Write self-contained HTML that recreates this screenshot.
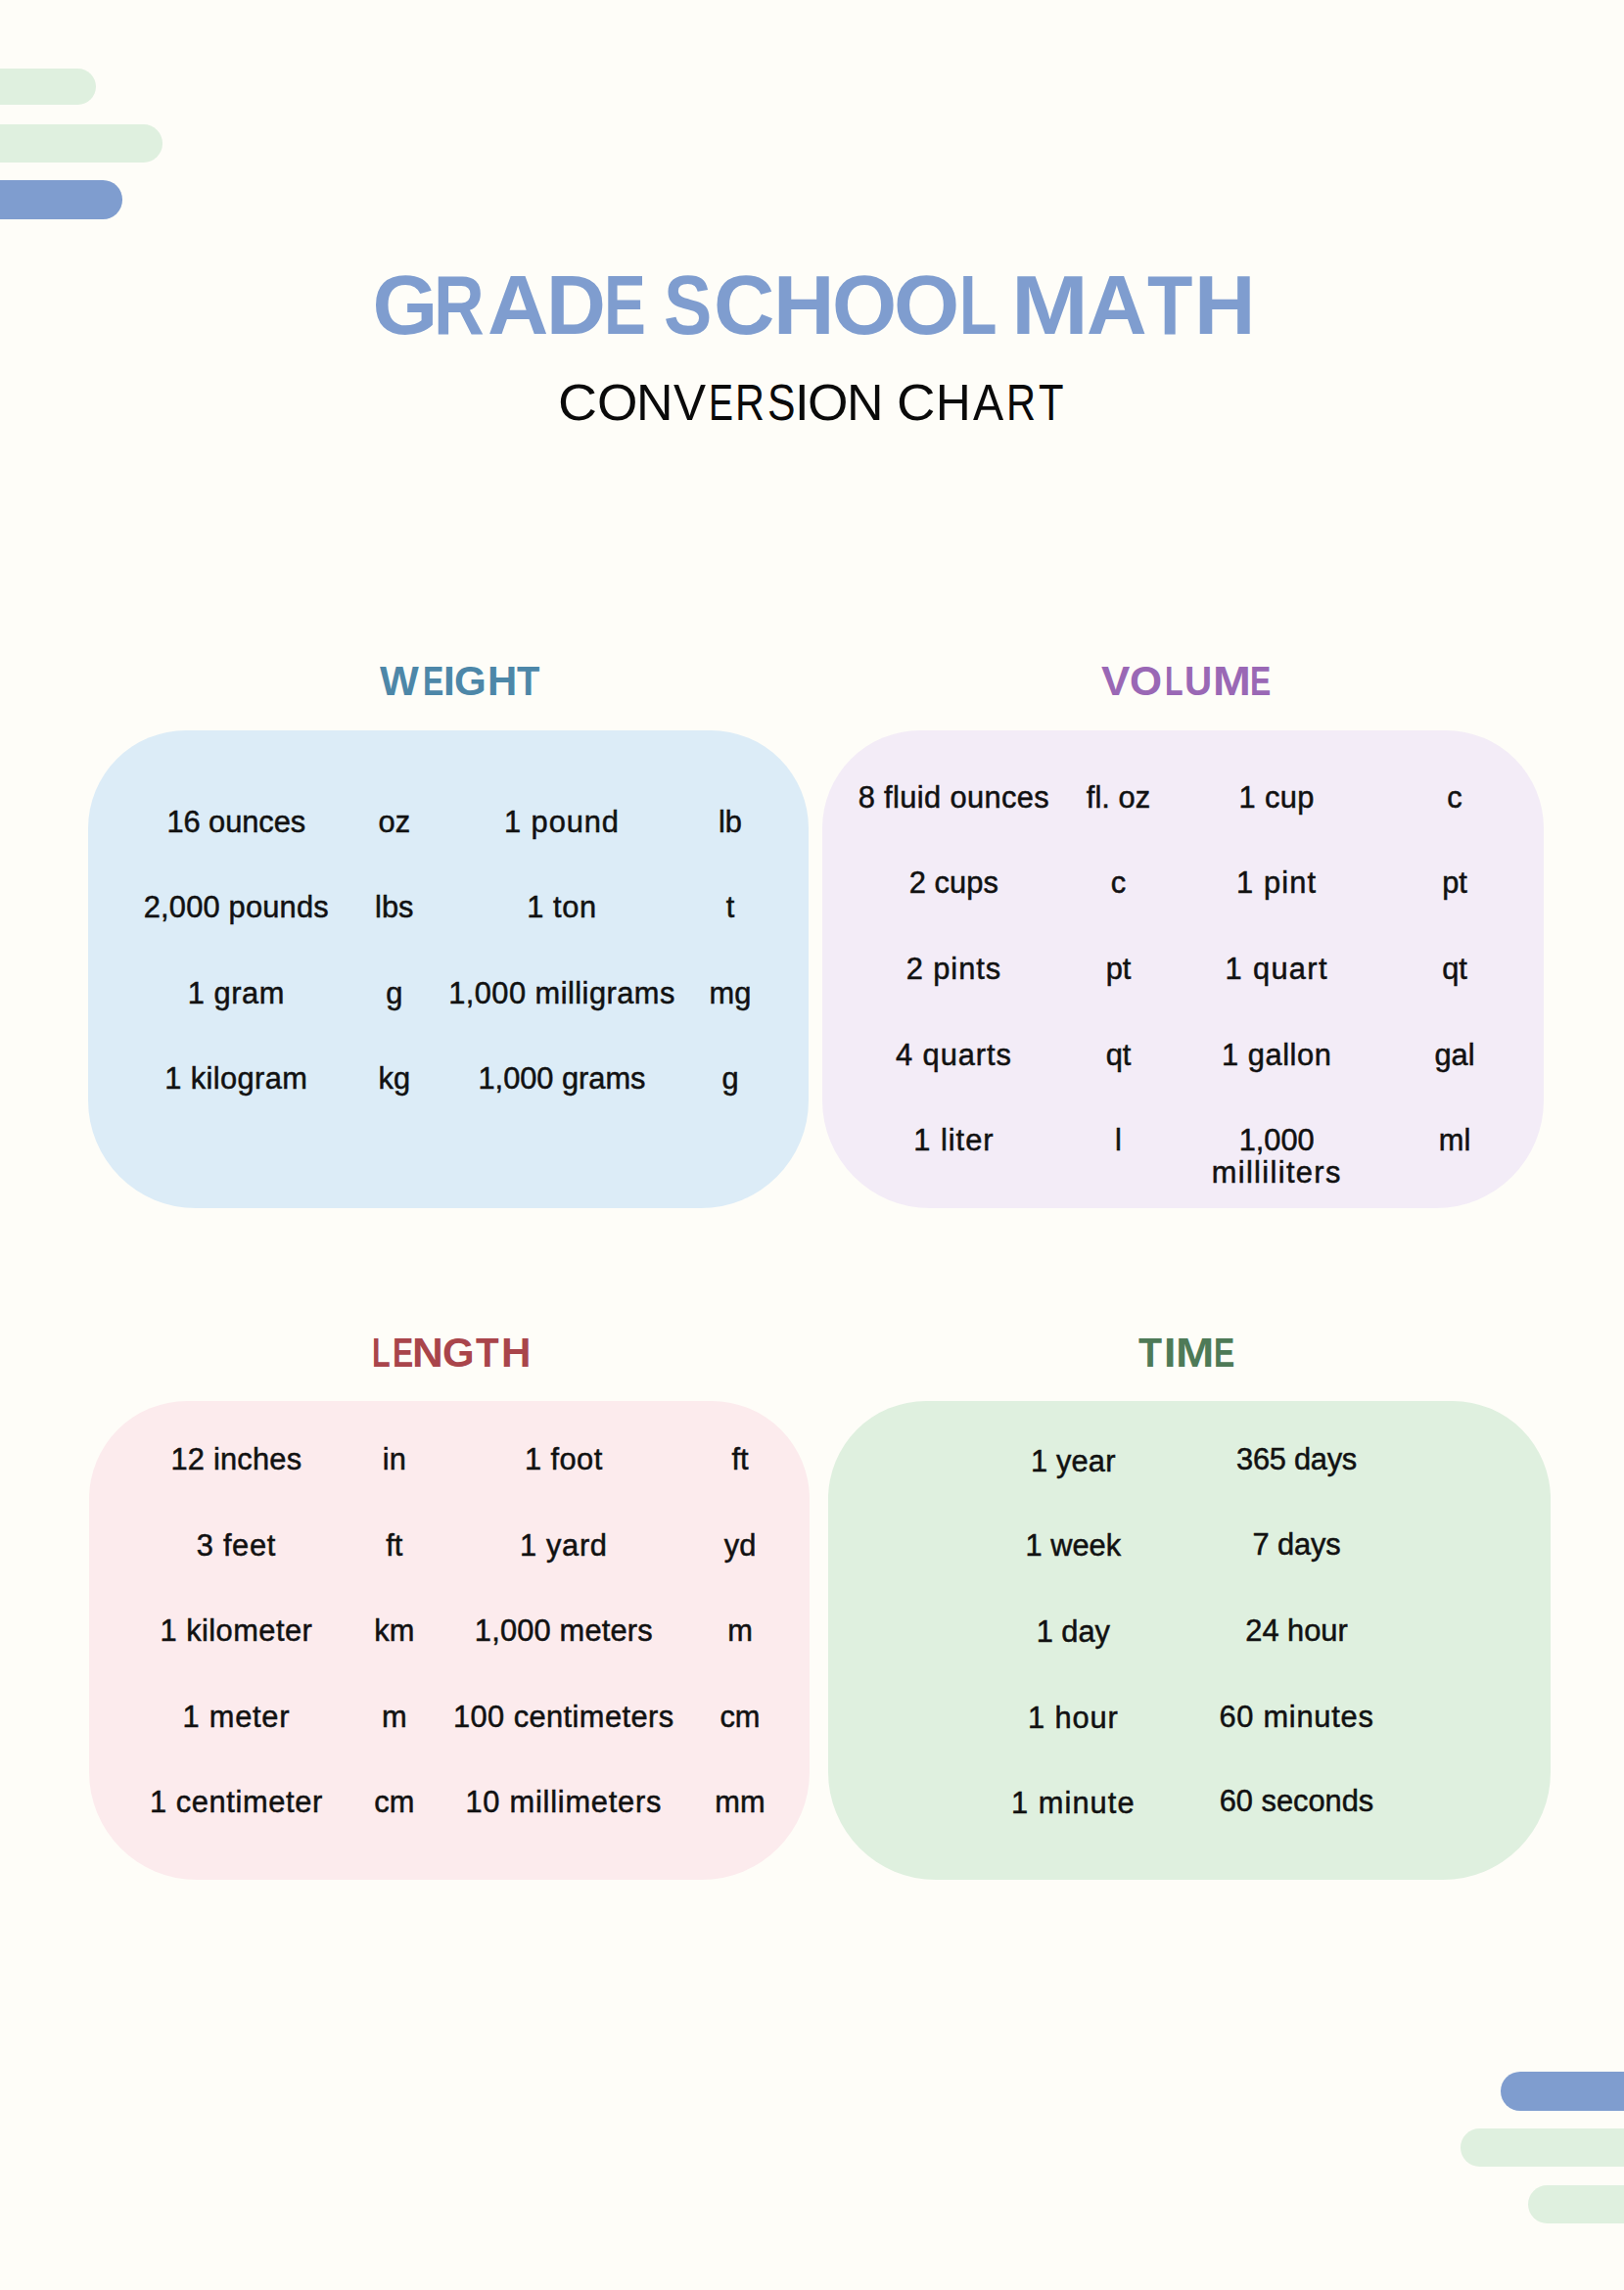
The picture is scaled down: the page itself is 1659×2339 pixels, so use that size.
<!DOCTYPE html>
<html><head><meta charset="utf-8"><style>
html,body{margin:0;padding:0}
body{width:1659px;height:2339px;background:#fefdf8;position:relative;overflow:hidden;font-family:"Liberation Sans",sans-serif}
.b{position:absolute}
.t{position:absolute;white-space:nowrap;font-kerning:none}
.r{-webkit-text-stroke:0.5px #111}
</style></head><body>
<div class="b" style="left:-40px;top:69.7px;width:138px;height:37.599999999999994px;background:#dff0df;border-radius:18.799999999999997px"></div>
<div class="b" style="left:-40px;top:127.3px;width:205.5px;height:38.7px;background:#dff0df;border-radius:19.35px"></div>
<div class="b" style="left:-40px;top:184px;width:165px;height:39.599999999999994px;background:#7f9dcf;border-radius:19.799999999999997px"></div>
<div class="b" style="left:1533px;top:2116px;width:167px;height:40px;background:#7f9dcf;border-radius:20.0px"></div>
<div class="b" style="left:1492px;top:2173.5px;width:208px;height:39.19999999999982px;background:#dff0df;border-radius:19.59999999999991px"></div>
<div class="b" style="left:1560.5px;top:2232.3px;width:139.5px;height:39.19999999999982px;background:#dff0df;border-radius:19.59999999999991px"></div>
<div class="t" style="left:380.48px;top:269.35px;font-size:85.8px;line-height:85.8px;font-weight:700;color:#7f9dcf;letter-spacing:0.000px;transform:scaleX(1.0000);transform-origin:0 0">G</div>
<div class="t" style="left:443.31px;top:269.35px;font-size:85.8px;line-height:85.8px;font-weight:700;color:#7f9dcf;letter-spacing:0.000px;transform:scaleX(0.8354);transform-origin:0 0">R</div>
<div class="t" style="left:498.25px;top:269.35px;font-size:85.8px;line-height:85.8px;font-weight:700;color:#7f9dcf;letter-spacing:0.000px;transform:scaleX(1.0059);transform-origin:0 0">A</div>
<div class="t" style="left:558.36px;top:269.35px;font-size:85.8px;line-height:85.8px;font-weight:700;color:#7f9dcf;letter-spacing:0.000px;transform:scaleX(0.9825);transform-origin:0 0">D</div>
<div class="t" style="left:617.01px;top:269.35px;font-size:85.8px;line-height:85.8px;font-weight:700;color:#7f9dcf;letter-spacing:0.000px;transform:scaleX(0.7479);transform-origin:0 0">E</div>
<div class="t" style="left:678.27px;top:269.35px;font-size:85.8px;line-height:85.8px;font-weight:700;color:#7f9dcf;letter-spacing:0.000px;transform:scaleX(0.8618);transform-origin:0 0">S</div>
<div class="t" style="left:728.56px;top:269.35px;font-size:85.8px;line-height:85.8px;font-weight:700;color:#7f9dcf;letter-spacing:0.000px;transform:scaleX(1.0054);transform-origin:0 0">C</div>
<div class="t" style="left:790.11px;top:269.35px;font-size:85.8px;line-height:85.8px;font-weight:700;color:#7f9dcf;letter-spacing:0.000px;transform:scaleX(1.0091);transform-origin:0 0">H</div>
<div class="t" style="left:849.81px;top:269.35px;font-size:85.8px;line-height:85.8px;font-weight:700;color:#7f9dcf;letter-spacing:0.000px;transform:scaleX(0.9913);transform-origin:0 0">O</div>
<div class="t" style="left:913.46px;top:269.35px;font-size:85.8px;line-height:85.8px;font-weight:700;color:#7f9dcf;letter-spacing:0.000px;transform:scaleX(1.0064);transform-origin:0 0">O</div>
<div class="t" style="left:980.19px;top:269.35px;font-size:85.8px;line-height:85.8px;font-weight:700;color:#7f9dcf;letter-spacing:0.000px;transform:scaleX(0.7336);transform-origin:0 0">L</div>
<div class="t" style="left:1033.47px;top:269.35px;font-size:85.8px;line-height:85.8px;font-weight:700;color:#7f9dcf;letter-spacing:0.000px;transform:scaleX(1.1035);transform-origin:0 0">M</div>
<div class="t" style="left:1110.17px;top:269.35px;font-size:85.8px;line-height:85.8px;font-weight:700;color:#7f9dcf;letter-spacing:0.000px;transform:scaleX(0.9954);transform-origin:0 0">A</div>
<div class="t" style="left:1172.45px;top:269.35px;font-size:85.8px;line-height:85.8px;font-weight:700;color:#7f9dcf;letter-spacing:0.000px;transform:scaleX(0.8847);transform-origin:0 0">T</div>
<div class="t" style="left:1220.41px;top:269.35px;font-size:85.8px;line-height:85.8px;font-weight:700;color:#7f9dcf;letter-spacing:0.000px;transform:scaleX(1.0091);transform-origin:0 0">H</div>
<div class="t" style="left:570.09px;top:384.72px;font-size:52.3px;line-height:52.3px;font-weight:400;color:#0a0a0a;letter-spacing:0.000px;transform:scaleX(1.0597);transform-origin:0 0">C</div>
<div class="t" style="left:609.77px;top:384.72px;font-size:52.3px;line-height:52.3px;font-weight:400;color:#0a0a0a;letter-spacing:0.000px;transform:scaleX(1.0196);transform-origin:0 0">O</div>
<div class="t" style="left:649.94px;top:384.72px;font-size:52.3px;line-height:52.3px;font-weight:400;color:#0a0a0a;letter-spacing:0.000px;transform:scaleX(0.9927);transform-origin:0 0">N</div>
<div class="t" style="left:687.88px;top:384.72px;font-size:52.3px;line-height:52.3px;font-weight:400;color:#0a0a0a;letter-spacing:0.000px;transform:scaleX(0.9470);transform-origin:0 0">V</div>
<div class="t" style="left:723.83px;top:384.72px;font-size:52.3px;line-height:52.3px;font-weight:400;color:#0a0a0a;letter-spacing:0.000px;transform:scaleX(0.7161);transform-origin:0 0">E</div>
<div class="t" style="left:750.80px;top:384.72px;font-size:52.3px;line-height:52.3px;font-weight:400;color:#0a0a0a;letter-spacing:0.000px;transform:scaleX(0.7922);transform-origin:0 0">R</div>
<div class="t" style="left:784.26px;top:384.72px;font-size:52.3px;line-height:52.3px;font-weight:400;color:#0a0a0a;letter-spacing:0.000px;transform:scaleX(0.8171);transform-origin:0 0">S</div>
<div class="t" style="left:811.55px;top:384.72px;font-size:52.3px;line-height:52.3px;font-weight:400;color:#0a0a0a;letter-spacing:0.000px;transform:scaleX(1.0046);transform-origin:0 0">I</div>
<div class="t" style="left:824.87px;top:384.72px;font-size:52.3px;line-height:52.3px;font-weight:400;color:#0a0a0a;letter-spacing:0.000px;transform:scaleX(1.0196);transform-origin:0 0">O</div>
<div class="t" style="left:865.04px;top:384.72px;font-size:52.3px;line-height:52.3px;font-weight:400;color:#0a0a0a;letter-spacing:0.000px;transform:scaleX(0.9927);transform-origin:0 0">N</div>
<div class="t" style="left:916.43px;top:384.72px;font-size:52.3px;line-height:52.3px;font-weight:400;color:#0a0a0a;letter-spacing:0.000px;transform:scaleX(1.0446);transform-origin:0 0">C</div>
<div class="t" style="left:956.15px;top:384.72px;font-size:52.3px;line-height:52.3px;font-weight:400;color:#0a0a0a;letter-spacing:0.000px;transform:scaleX(0.9447);transform-origin:0 0">H</div>
<div class="t" style="left:994.11px;top:384.72px;font-size:52.3px;line-height:52.3px;font-weight:400;color:#0a0a0a;letter-spacing:0.000px;transform:scaleX(0.8939);transform-origin:0 0">A</div>
<div class="t" style="left:1027.69px;top:384.72px;font-size:52.3px;line-height:52.3px;font-weight:400;color:#0a0a0a;letter-spacing:0.000px;transform:scaleX(0.7954);transform-origin:0 0">R</div>
<div class="t" style="left:1061.26px;top:384.72px;font-size:52.3px;line-height:52.3px;font-weight:400;color:#0a0a0a;letter-spacing:0.000px;transform:scaleX(0.7981);transform-origin:0 0">T</div>
<div class="t" style="left:388.16px;top:674.69px;font-size:41.7px;line-height:41.7px;font-weight:700;color:#4d87a8;letter-spacing:0.000px;transform:scaleX(1.0108);transform-origin:0 0">W</div>
<div class="t" style="left:431.87px;top:674.69px;font-size:41.7px;line-height:41.7px;font-weight:700;color:#4d87a8;letter-spacing:0.000px;transform:scaleX(0.7651);transform-origin:0 0">E</div>
<div class="t" style="left:452.77px;top:674.69px;font-size:41.7px;line-height:41.7px;font-weight:700;color:#4d87a8;letter-spacing:0.000px;transform:scaleX(1.0156);transform-origin:0 0">I</div>
<div class="t" style="left:463.67px;top:674.69px;font-size:41.7px;line-height:41.7px;font-weight:700;color:#4d87a8;letter-spacing:0.000px;transform:scaleX(1.0093);transform-origin:0 0">G</div>
<div class="t" style="left:498.40px;top:674.69px;font-size:41.7px;line-height:41.7px;font-weight:700;color:#4d87a8;letter-spacing:0.000px;transform:scaleX(1.0035);transform-origin:0 0">H</div>
<div class="t" style="left:527.87px;top:674.69px;font-size:41.7px;line-height:41.7px;font-weight:700;color:#4d87a8;letter-spacing:0.000px;transform:scaleX(0.9163);transform-origin:0 0">T</div>
<div class="t" style="left:1124.70px;top:674.69px;font-size:41.7px;line-height:41.7px;font-weight:700;color:#9a68b5;letter-spacing:0.000px;transform:scaleX(1.0535);transform-origin:0 0">V</div>
<div class="t" style="left:1154.46px;top:674.69px;font-size:41.7px;line-height:41.7px;font-weight:700;color:#9a68b5;letter-spacing:0.000px;transform:scaleX(1.0181);transform-origin:0 0">O</div>
<div class="t" style="left:1190.27px;top:674.69px;font-size:41.7px;line-height:41.7px;font-weight:700;color:#9a68b5;letter-spacing:0.000px;transform:scaleX(0.7290);transform-origin:0 0">L</div>
<div class="t" style="left:1209.86px;top:674.69px;font-size:41.7px;line-height:41.7px;font-weight:700;color:#9a68b5;letter-spacing:0.000px;transform:scaleX(0.9336);transform-origin:0 0">U</div>
<div class="t" style="left:1239.28px;top:674.69px;font-size:41.7px;line-height:41.7px;font-weight:700;color:#9a68b5;letter-spacing:0.000px;transform:scaleX(1.1181);transform-origin:0 0">M</div>
<div class="t" style="left:1277.17px;top:674.69px;font-size:41.7px;line-height:41.7px;font-weight:700;color:#9a68b5;letter-spacing:0.000px;transform:scaleX(0.7651);transform-origin:0 0">E</div>
<div class="t" style="left:379.85px;top:1360.69px;font-size:41.7px;line-height:41.7px;font-weight:700;color:#a9454b;letter-spacing:0.000px;transform:scaleX(0.7337);transform-origin:0 0">L</div>
<div class="t" style="left:400.97px;top:1360.69px;font-size:41.7px;line-height:41.7px;font-weight:700;color:#a9454b;letter-spacing:0.000px;transform:scaleX(0.7651);transform-origin:0 0">E</div>
<div class="t" style="left:421.05px;top:1360.69px;font-size:41.7px;line-height:41.7px;font-weight:700;color:#a9454b;letter-spacing:0.000px;transform:scaleX(1.0565);transform-origin:0 0">N</div>
<div class="t" style="left:451.88px;top:1360.69px;font-size:41.7px;line-height:41.7px;font-weight:700;color:#a9454b;letter-spacing:0.000px;transform:scaleX(1.0057);transform-origin:0 0">G</div>
<div class="t" style="left:485.77px;top:1360.69px;font-size:41.7px;line-height:41.7px;font-weight:700;color:#a9454b;letter-spacing:0.000px;transform:scaleX(0.9285);transform-origin:0 0">T</div>
<div class="t" style="left:512.38px;top:1360.69px;font-size:41.7px;line-height:41.7px;font-weight:700;color:#a9454b;letter-spacing:0.000px;transform:scaleX(1.0116);transform-origin:0 0">H</div>
<div class="t" style="left:1162.56px;top:1360.69px;font-size:41.7px;line-height:41.7px;font-weight:700;color:#4e7a57;letter-spacing:0.000px;transform:scaleX(0.9448);transform-origin:0 0">T</div>
<div class="t" style="left:1189.13px;top:1360.69px;font-size:41.7px;line-height:41.7px;font-weight:700;color:#4e7a57;letter-spacing:0.000px;transform:scaleX(1.0655);transform-origin:0 0">I</div>
<div class="t" style="left:1200.74px;top:1360.69px;font-size:41.7px;line-height:41.7px;font-weight:700;color:#4e7a57;letter-spacing:0.000px;transform:scaleX(1.1318);transform-origin:0 0">M</div>
<div class="t" style="left:1240.17px;top:1360.69px;font-size:41.7px;line-height:41.7px;font-weight:700;color:#4e7a57;letter-spacing:0.000px;transform:scaleX(0.7651);transform-origin:0 0">E</div>
<div class="b" style="left:90px;top:746px;width:736px;height:488px;background:#dcecf7;border-radius:100px 100px 110px 110px"></div>
<div class="b" style="left:840px;top:746px;width:737px;height:488px;background:#f3ecf7;border-radius:100px 100px 110px 110px"></div>
<div class="b" style="left:91px;top:1431px;width:736px;height:489px;background:#fcebed;border-radius:100px 100px 110px 110px"></div>
<div class="b" style="left:846px;top:1431px;width:738px;height:489px;background:#dff0df;border-radius:100px 100px 110px 110px"></div>
<div class="t r" style="left:170.44px;top:825.12px;font-size:30.8px;line-height:30.8px;font-weight:400;color:#111;letter-spacing:-0.047px">16 ounces</div>
<div class="t r" style="left:386.54px;top:825.12px;font-size:30.8px;line-height:30.8px;font-weight:400;color:#111;letter-spacing:0.000px">oz</div>
<div class="t r" style="left:515.07px;top:825.12px;font-size:30.8px;line-height:30.8px;font-weight:400;color:#111;letter-spacing:0.933px">1 pound</div>
<div class="t r" style="left:734.01px;top:825.12px;font-size:30.8px;line-height:30.8px;font-weight:400;color:#111;letter-spacing:0.000px">lb</div>
<div class="t r" style="left:146.77px;top:912.22px;font-size:30.8px;line-height:30.8px;font-weight:400;color:#111;letter-spacing:0.198px">2,000 pounds</div>
<div class="t r" style="left:383.11px;top:912.22px;font-size:30.8px;line-height:30.8px;font-weight:400;color:#111;letter-spacing:0.000px">lbs</div>
<div class="t r" style="left:538.28px;top:912.22px;font-size:30.8px;line-height:30.8px;font-weight:400;color:#111;letter-spacing:0.586px">1 ton</div>
<div class="t r" style="left:741.72px;top:912.22px;font-size:30.8px;line-height:30.8px;font-weight:400;color:#111;letter-spacing:0.000px">t</div>
<div class="t r" style="left:191.74px;top:1000.12px;font-size:30.8px;line-height:30.8px;font-weight:400;color:#111;letter-spacing:0.543px">1 gram</div>
<div class="t r" style="left:394.24px;top:1000.12px;font-size:30.8px;line-height:30.8px;font-weight:400;color:#111;letter-spacing:0.000px">g</div>
<div class="t r" style="left:458.14px;top:1000.12px;font-size:30.8px;line-height:30.8px;font-weight:400;color:#111;letter-spacing:0.468px">1,000 milligrams</div>
<div class="t r" style="left:724.61px;top:1000.12px;font-size:30.8px;line-height:30.8px;font-weight:400;color:#111;letter-spacing:0.000px">mg</div>
<div class="t r" style="left:168.32px;top:1087.42px;font-size:30.8px;line-height:30.8px;font-weight:400;color:#111;letter-spacing:0.389px">1 kilogram</div>
<div class="t r" style="left:386.54px;top:1087.42px;font-size:30.8px;line-height:30.8px;font-weight:400;color:#111;letter-spacing:0.000px">kg</div>
<div class="t r" style="left:488.53px;top:1087.42px;font-size:30.8px;line-height:30.8px;font-weight:400;color:#111;letter-spacing:-0.025px">1,000 grams</div>
<div class="t r" style="left:737.44px;top:1087.42px;font-size:30.8px;line-height:30.8px;font-weight:400;color:#111;letter-spacing:0.000px">g</div>
<div class="t r" style="left:876.63px;top:799.92px;font-size:30.8px;line-height:30.8px;font-weight:400;color:#111;letter-spacing:0.391px">8 fluid ounces</div>
<div class="t r" style="left:1109.84px;top:799.92px;font-size:30.8px;line-height:30.8px;font-weight:400;color:#111;letter-spacing:0.045px">fl. oz</div>
<div class="t r" style="left:1265.47px;top:799.92px;font-size:30.8px;line-height:30.8px;font-weight:400;color:#111;letter-spacing:0.423px">1 cup</div>
<div class="t r" style="left:1478.30px;top:799.92px;font-size:30.8px;line-height:30.8px;font-weight:400;color:#111;letter-spacing:0.000px">c</div>
<div class="t r" style="left:928.78px;top:887.42px;font-size:30.8px;line-height:30.8px;font-weight:400;color:#111;letter-spacing:0.083px">2 cups</div>
<div class="t r" style="left:1134.80px;top:887.42px;font-size:30.8px;line-height:30.8px;font-weight:400;color:#111;letter-spacing:0.000px">c</div>
<div class="t r" style="left:1263.03px;top:887.42px;font-size:30.8px;line-height:30.8px;font-weight:400;color:#111;letter-spacing:1.165px">1 pint</div>
<div class="t r" style="left:1473.16px;top:887.42px;font-size:30.8px;line-height:30.8px;font-weight:400;color:#111;letter-spacing:0.000px">pt</div>
<div class="t r" style="left:925.75px;top:974.92px;font-size:30.8px;line-height:30.8px;font-weight:400;color:#111;letter-spacing:0.936px">2 pints</div>
<div class="t r" style="left:1129.66px;top:974.92px;font-size:30.8px;line-height:30.8px;font-weight:400;color:#111;letter-spacing:0.000px">pt</div>
<div class="t r" style="left:1251.60px;top:974.92px;font-size:30.8px;line-height:30.8px;font-weight:400;color:#111;letter-spacing:1.330px">1 quart</div>
<div class="t r" style="left:1473.16px;top:974.92px;font-size:30.8px;line-height:30.8px;font-weight:400;color:#111;letter-spacing:0.000px">qt</div>
<div class="t r" style="left:915.08px;top:1062.62px;font-size:30.8px;line-height:30.8px;font-weight:400;color:#111;letter-spacing:0.919px">4 quarts</div>
<div class="t r" style="left:1129.66px;top:1062.62px;font-size:30.8px;line-height:30.8px;font-weight:400;color:#111;letter-spacing:0.000px">qt</div>
<div class="t r" style="left:1247.94px;top:1062.62px;font-size:30.8px;line-height:30.8px;font-weight:400;color:#111;letter-spacing:0.579px">1 gallon</div>
<div class="t r" style="left:1465.45px;top:1062.62px;font-size:30.8px;line-height:30.8px;font-weight:400;color:#111;letter-spacing:0.000px">gal</div>
<div class="t r" style="left:933.28px;top:1149.72px;font-size:30.8px;line-height:30.8px;font-weight:400;color:#111;letter-spacing:0.990px">1 liter</div>
<div class="t r" style="left:1139.08px;top:1149.72px;font-size:30.8px;line-height:30.8px;font-weight:400;color:#111;letter-spacing:0.000px">l</div>
<div class="t r" style="left:1265.66px;top:1149.72px;font-size:30.8px;line-height:30.8px;font-weight:400;color:#111;letter-spacing:0.000px">1,000</div>
<div class="t r" style="left:1469.75px;top:1149.72px;font-size:30.8px;line-height:30.8px;font-weight:400;color:#111;letter-spacing:0.000px">ml</div>
<div class="t r" style="left:1237.69px;top:1183.22px;font-size:30.8px;line-height:30.8px;font-weight:400;color:#111;letter-spacing:1.360px">milliliters</div>
<div class="t r" style="left:174.40px;top:1475.52px;font-size:30.8px;line-height:30.8px;font-weight:400;color:#111;letter-spacing:0.239px">12 inches</div>
<div class="t r" style="left:390.81px;top:1475.52px;font-size:30.8px;line-height:30.8px;font-weight:400;color:#111;letter-spacing:0.000px">in</div>
<div class="t r" style="left:535.94px;top:1475.52px;font-size:30.8px;line-height:30.8px;font-weight:400;color:#111;letter-spacing:0.442px">1 foot</div>
<div class="t r" style="left:747.44px;top:1475.52px;font-size:30.8px;line-height:30.8px;font-weight:400;color:#111;letter-spacing:0.000px">ft</div>
<div class="t r" style="left:200.87px;top:1564.12px;font-size:30.8px;line-height:30.8px;font-weight:400;color:#111;letter-spacing:0.668px">3 feet</div>
<div class="t r" style="left:394.24px;top:1564.12px;font-size:30.8px;line-height:30.8px;font-weight:400;color:#111;letter-spacing:0.000px">ft</div>
<div class="t r" style="left:530.88px;top:1564.12px;font-size:30.8px;line-height:30.8px;font-weight:400;color:#111;letter-spacing:0.706px">1 yard</div>
<div class="t r" style="left:739.74px;top:1564.12px;font-size:30.8px;line-height:30.8px;font-weight:400;color:#111;letter-spacing:0.000px">yd</div>
<div class="t r" style="left:163.59px;top:1651.42px;font-size:30.8px;line-height:30.8px;font-weight:400;color:#111;letter-spacing:0.453px">1 kilometer</div>
<div class="t r" style="left:382.27px;top:1651.42px;font-size:30.8px;line-height:30.8px;font-weight:400;color:#111;letter-spacing:0.000px">km</div>
<div class="t r" style="left:484.83px;top:1651.42px;font-size:30.8px;line-height:30.8px;font-weight:400;color:#111;letter-spacing:0.182px">1,000 meters</div>
<div class="t r" style="left:743.17px;top:1651.42px;font-size:30.8px;line-height:30.8px;font-weight:400;color:#111;letter-spacing:0.000px">m</div>
<div class="t r" style="left:186.48px;top:1738.82px;font-size:30.8px;line-height:30.8px;font-weight:400;color:#111;letter-spacing:0.774px">1 meter</div>
<div class="t r" style="left:389.97px;top:1738.82px;font-size:30.8px;line-height:30.8px;font-weight:400;color:#111;letter-spacing:0.000px">m</div>
<div class="t r" style="left:462.95px;top:1738.82px;font-size:30.8px;line-height:30.8px;font-weight:400;color:#111;letter-spacing:0.437px">100 centimeters</div>
<div class="t r" style="left:735.47px;top:1738.82px;font-size:30.8px;line-height:30.8px;font-weight:400;color:#111;letter-spacing:0.000px">cm</div>
<div class="t r" style="left:152.91px;top:1825.82px;font-size:30.8px;line-height:30.8px;font-weight:400;color:#111;letter-spacing:0.626px">1 centimeter</div>
<div class="t r" style="left:382.27px;top:1825.82px;font-size:30.8px;line-height:30.8px;font-weight:400;color:#111;letter-spacing:0.000px">cm</div>
<div class="t r" style="left:475.38px;top:1825.82px;font-size:30.8px;line-height:30.8px;font-weight:400;color:#111;letter-spacing:0.776px">10 millimeters</div>
<div class="t r" style="left:730.34px;top:1825.82px;font-size:30.8px;line-height:30.8px;font-weight:400;color:#111;letter-spacing:0.000px">mm</div>
<div class="t r" style="left:1053.05px;top:1477.72px;font-size:30.8px;line-height:30.8px;font-weight:400;color:#111;letter-spacing:0.151px">1 year</div>
<div class="t r" style="left:1263.04px;top:1475.52px;font-size:30.8px;line-height:30.8px;font-weight:400;color:#111;letter-spacing:-0.260px">365 days</div>
<div class="t r" style="left:1047.56px;top:1564.42px;font-size:30.8px;line-height:30.8px;font-weight:400;color:#111;letter-spacing:-0.018px">1 week</div>
<div class="t r" style="left:1279.40px;top:1562.82px;font-size:30.8px;line-height:30.8px;font-weight:400;color:#111;letter-spacing:-0.091px">7 days</div>
<div class="t r" style="left:1058.63px;top:1651.92px;font-size:30.8px;line-height:30.8px;font-weight:400;color:#111;letter-spacing:0.000px">1 day</div>
<div class="t r" style="left:1272.27px;top:1650.92px;font-size:30.8px;line-height:30.8px;font-weight:400;color:#111;letter-spacing:0.000px">24 hour</div>
<div class="t r" style="left:1049.98px;top:1739.92px;font-size:30.8px;line-height:30.8px;font-weight:400;color:#111;letter-spacing:0.885px">1 hour</div>
<div class="t r" style="left:1245.38px;top:1739.12px;font-size:30.8px;line-height:30.8px;font-weight:400;color:#111;letter-spacing:0.757px">60 minutes</div>
<div class="t r" style="left:1032.96px;top:1827.22px;font-size:30.8px;line-height:30.8px;font-weight:400;color:#111;letter-spacing:1.069px">1 minute</div>
<div class="t r" style="left:1245.73px;top:1825.32px;font-size:30.8px;line-height:30.8px;font-weight:400;color:#111;letter-spacing:0.000px">60 seconds</div>
</body></html>
